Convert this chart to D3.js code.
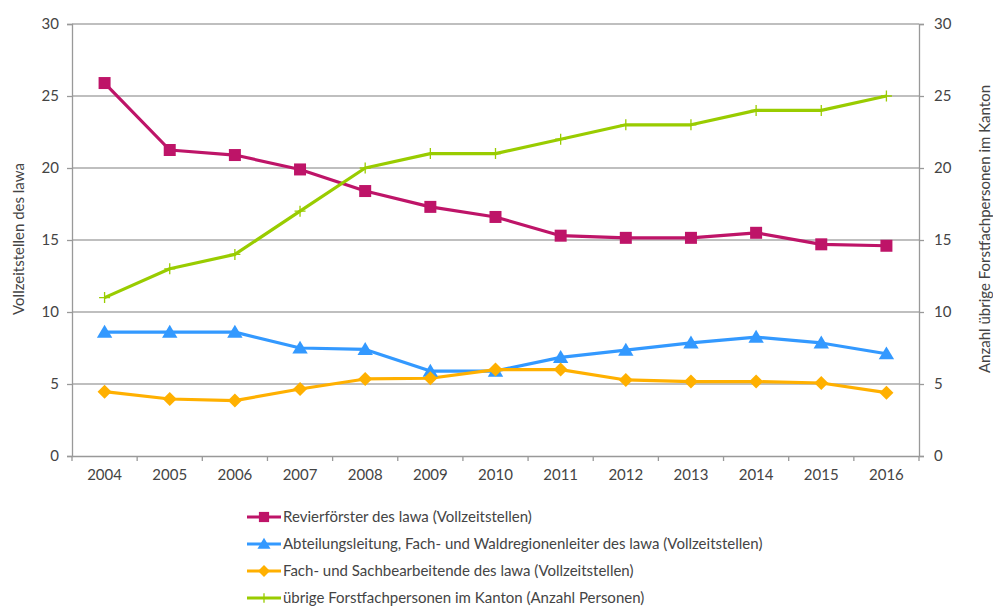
<!DOCTYPE html>
<html><head><meta charset="utf-8">
<script src="https://cdn.jsdelivr.net/npm/d3@7"></script>
<style>body{margin:0;background:#fff;}svg{display:block;font-family:Lato,"Open Sans",sans-serif;}</style>
</head><body>
<svg id="c" width="993" height="606"></svg>
<script>
const years = ["2004","2005","2006","2007","2008","2009","2010","2011","2012","2013","2014","2015","2016"];
const revierfoerster = [25.9,21.25,20.9,19.9,18.4,17.3,16.6,15.3,15.15,15.15,15.5,14.7,14.6];
const abteilung = [8.6,8.6,8.6,7.5,7.4,5.9,5.9,6.85,7.35,7.85,8.25,7.85,7.1];
const fachSach = [4.47,3.96,3.85,4.65,5.35,5.4,6.0,6.0,5.28,5.17,5.17,5.07,4.4];
const uebrige = [11,13,14,17,20,21,21,22,23,23,24,24,25];
const yTicks = [0,5,10,15,20,25,30];
const seriesNames = [
 "Revierförster des lawa (Vollzeitstellen)",
 "Abteilungsleitung, Fach- und Waldregionenleiter des lawa (Vollzeitstellen)",
 "Fach- und Sachbearbeitende des lawa (Vollzeitstellen)",
 "übrige Forstfachpersonen im Kanton (Anzahl Personen)"
];

const svg = d3.select("#c");
const L=72,R=919,T=24,B=456;
const FS=15;
const x = d3.scaleBand().domain(years).range([L,R]);
const yL = d3.scaleLinear().domain([0,30]).range([B,T]);
const yR = d3.scaleLinear().domain([0,30]).range([B,T]);

svg.append("g").selectAll("line").data(yTicks.filter(d=>d>0)).join("line")
 .attr("x1",L).attr("x2",R).attr("y1",d=>yL(d)).attr("y2",d=>yL(d))
 .attr("stroke","#aaa").attr("stroke-width",1.3);

const tc="#444";
const gl = svg.append("g").attr("transform",`translate(${L},0)`)
 .call(d3.axisLeft(yL).tickValues(yTicks).tickSize(5).tickPadding(8));
const gr = svg.append("g").attr("transform",`translate(${R},0)`)
 .call(d3.axisRight(yR).tickValues(yTicks).tickSize(5).tickPadding(10));
const gx = svg.append("g").attr("transform",`translate(0,${B})`)
 .call(d3.axisBottom(x).tickSize(0).tickPadding(13));
svg.append("g").selectAll("line").data(d3.range(years.length+1)).join("line")
 .attr("x1",i=>L+i*x.step()).attr("x2",i=>L+i*x.step())
 .attr("y1",B).attr("y2",B+5).attr("stroke","#999").attr("stroke-width",1.3);
[gl,gr,gx].forEach(g=>{
 g.selectAll(".domain,.tick line").attr("stroke","#999").attr("stroke-width",1.3);
 g.selectAll("text").attr("fill",tc).attr("font-size",FS).attr("font-family","Lato,'Open Sans',sans-serif");
});

svg.append("text").attr("transform","translate(24,239) rotate(-90)").attr("text-anchor","middle")
 .attr("fill",tc).attr("font-size",FS).text("Vollzeitstellen des lawa");
svg.append("text").attr("transform","translate(990,229) rotate(-90)").attr("text-anchor","middle")
 .attr("fill",tc).attr("font-size",FS).text("Anzahl übrige Forstfachpersonen im Kanton");

const cx = d=>x(d)+x.bandwidth()/2;
function markerPath(kind, r){
 if(kind==="square") return `M${-r},${-r}H${r}V${r}H${-r}Z`;
 if(kind==="triangle") return `M0,${-r*1.05}L${r*1.1},${r*0.8}H${-r*1.1}Z`;
 if(kind==="diamond") return `M0,${-r}L${r},0L0,${r}L${-r},0Z`;
 return `M${-r},0H${r}M0,${-r}V${r}`;
}
const series = [
 {vals:revierfoerster,color:"#BE1468",kind:"square",r:6,y:yL},
 {vals:abteilung,color:"#3399FF",kind:"triangle",r:7,y:yL},
 {vals:fachSach,color:"#FFB000",kind:"diamond",r:7,y:yL},
 {vals:uebrige,color:"#99CC00",kind:"plus",r:5.5,y:yR}
];
const line = (s)=>d3.line().x((d,i)=>cx(years[i])).y(d=>s.y(d));
series.forEach(s=>{
 svg.append("path").datum(s.vals).attr("d",line(s)).attr("fill","none")
  .attr("stroke",s.color).attr("stroke-width",3.2).attr("stroke-linejoin","round");
});
function drawMarker(g,s,px,py,scale){
 const p=g.append("path").attr("d",markerPath(s.kind,s.r*scale)).attr("transform",`translate(${px},${py})`);
 if(s.kind==="plus") p.attr("fill","none").attr("stroke",s.color).attr("stroke-width",1.3);
 else p.attr("fill",s.color);
}
series.forEach(s=>{
 const g = svg.append("g");
 s.vals.forEach((v,i)=>drawMarker(g,s,cx(years[i]),s.y(v),1));
});

const lg = svg.append("g");
seriesNames.forEach((n,i)=>{
 const s=series[i]; const yy=517+i*27; const x0=247,x1=281;
 lg.append("line").attr("x1",x0).attr("x2",x1).attr("y1",yy).attr("y2",yy)
  .attr("stroke",s.color).attr("stroke-width",3.2);
 drawMarker(lg,s,(x0+x1)/2,yy,0.85);
 lg.append("text").attr("x",283).attr("y",yy+5).attr("fill",tc).attr("font-size",FS).text(n);
});
</script>
</body></html>
